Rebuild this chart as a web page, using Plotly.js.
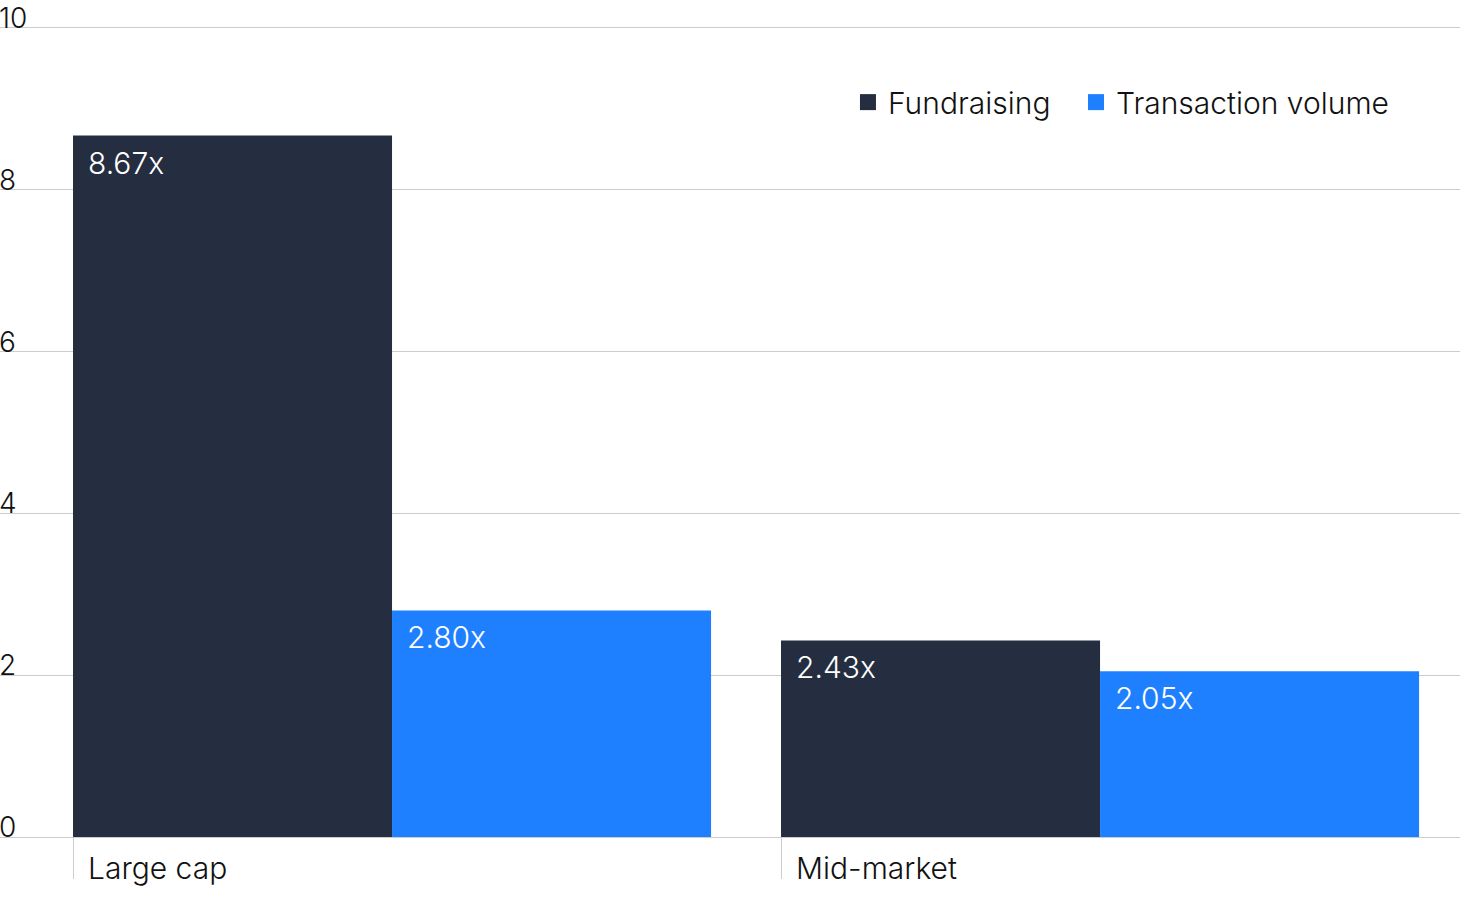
<!DOCTYPE html>
<html><head><meta charset="utf-8">
<script src="https://cdn.plot.ly/plotly-3.0.1.min.js"></script>
<style>html,body{margin:0;padding:0;background:#fff;}#chart{width:1460px;height:901px;}</style>
</head><body><div id="chart"></div>
<script>
const categories = ["Large cap", "Mid-market"];
const fundraising = [8.67, 2.43];
const transactionVolume = [2.80, 2.05];
const seriesNames = ["Fundraising", "Transaction volume"];
const colors = ["#252d40", "#1f80ff"];
const yTicks = [0, 2, 4, 6, 8, 10];

const FONT = "Inter, 'Liberation Sans', sans-serif";
const W = 300;
const barW = 0.4506;
const series = [fundraising, transactionVolume];
const legendIds = ["legend", "legend2"];

const traces = [];
series.forEach((vals, k) => {
  traces.push({
    type: "bar", x: categories, y: vals, name: seriesNames[k],
    marker: {color: colors[k], line: {width: 0}},
    offset: -0.5 + k * barW, width: barW,
    showlegend: false, hoverinfo: "skip"
  });
});
// legend entries
series.forEach((vals, k) => {
  traces.push({
    type: "scatter", mode: "markers", x: [null], y: [null], name: seriesNames[k],
    marker: {symbol: "square", size: 18, color: colors[k]},
    showlegend: true, legend: legendIds[k], hoverinfo: "skip"
  });
});

const annotations = [];
series.forEach((vals, k) => {
  vals.forEach((v, i) => {
    annotations.push({
      xref: "x", yref: "y", x: i - 0.5 + k * barW, y: v,
      xanchor: "left", yanchor: "top", xshift: 13, yshift: -7,
      text: v.toFixed(2) + "x", showarrow: false,
      font: {family: FONT, size: 30, color: "#ffffff", weight: W}
    });
  });
});
categories.forEach((c, i) => {
  annotations.push({
    xref: "x", yref: "y", x: i - 0.5, y: 0,
    xanchor: "left", yanchor: "top", xshift: 13, yshift: -11,
    text: c, showarrow: false,
    font: {family: FONT, size: 30, color: "#111111", weight: W}
  });
});
yTicks.forEach(t => {
  annotations.push({
    xref: "paper", yref: "y", x: 0, y: t,
    xanchor: "left", yanchor: "bottom", xshift: -3, yshift: -9,
    text: String(t), showarrow: false,
    font: {family: FONT, size: 28, color: "#111111", weight: W}
  });
});

const legendBase = {
  orientation: "h", xanchor: "left", y: 0.878, yanchor: "middle",
  font: {family: FONT, size: 30, color: "#111111", weight: W},
  bgcolor: "rgba(0,0,0,0)", itemclick: false, itemdoubleclick: false
};

const layout = {
  width: 1460, height: 901,
  margin: {l: 0, r: 0, t: 0, b: 64, pad: 0},
  paper_bgcolor: "#ffffff", plot_bgcolor: "#ffffff",
  barmode: "group",
  showlegend: true,
  legend: Object.assign({}, legendBase, {x: 0.5808}),
  legend2: Object.assign({}, legendBase, {x: 0.7370}),
  xaxis: {
    type: "category", range: [-0.6031, 1.4590],
    tickson: "boundaries", ticks: "outside", ticklen: 41, tickwidth: 1, tickcolor: "#cccccc",
    showticklabels: false, showgrid: false, zeroline: false, showline: false, fixedrange: true
  },
  yaxis: {
    range: [0, 10.346], tickvals: yTicks,
    showticklabels: false,
    showgrid: true, gridcolor: "#cccccc", gridwidth: 1,
    zeroline: true, zerolinecolor: "#cccccc", zerolinewidth: 1,
    showline: false, ticks: "", fixedrange: true
  },
  annotations: annotations,
  font: {family: FONT}
};

Plotly.newPlot("chart", traces, layout, {displayModeBar: false, staticPlot: true});
</script></body></html>
